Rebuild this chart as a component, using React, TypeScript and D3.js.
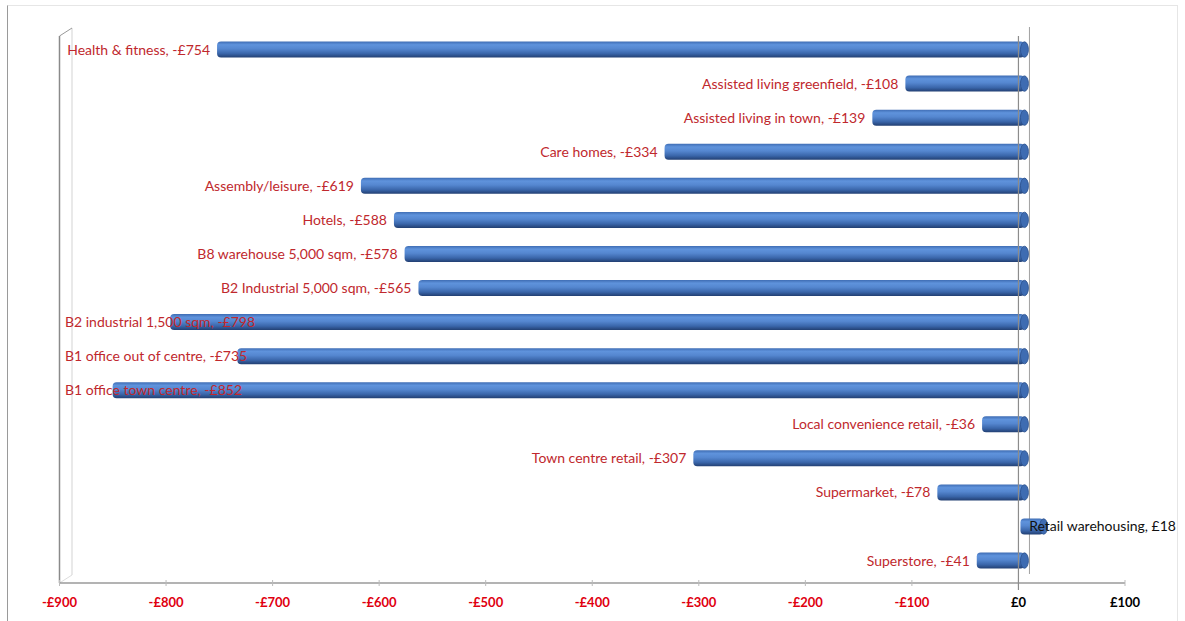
import React, { useEffect, useRef } from "react";
import * as d3 from "d3";

const categories = [
  "Health & fitness",
  "Assisted living greenfield",
  "Assisted living in town",
  "Care homes",
  "Assembly/leisure",
  "Hotels",
  "B8 warehouse 5,000 sqm",
  "B2 Industrial 5,000 sqm",
  "B2 industrial 1,500 sqm",
  "B1 office out of centre",
  "B1 office town centre",
  "Local convenience retail",
  "Town centre retail",
  "Supermarket",
  "Retail warehousing",
  "Superstore",
];
const values = [-754, -108, -139, -334, -619, -588, -578, -565, -798, -735, -852, -36, -307, -78, 18, -41];
const tickValues = [-900, -800, -700, -600, -500, -400, -300, -200, -100, 0, 100];

const W = 1185;
const H = 621;

function fmt(v: number) {
  return (v < 0 ? "-£" : "£") + Math.abs(v);
}

export default function App() {
  const ref = useRef<SVGSVGElement>(null);

  useEffect(() => {
    const svg = d3.select(ref.current!);
    svg.selectAll("*").remove();

    const x = d3.scaleLinear().domain([-900, 100]).range([59.5, 1125]);
    const y = d3
      .scaleBand<string>()
      .domain(categories)
      .range([32.5, 577.6])
      .paddingInner(0)
      .paddingOuter(0);

    const defs = svg.append("defs");
    const g = defs
      .append("linearGradient")
      .attr("id", "cyl")
      .attr("x1", 0)
      .attr("y1", 0)
      .attr("x2", 0)
      .attr("y2", 1);
    [
      [0, "#3f6db4"],
      [0.2, "#5f93dc"],
      [0.45, "#5587d0"],
      [0.75, "#3a66aa"],
      [1, "#223f72"],
    ].forEach(([o, c]) => g.append("stop").attr("offset", o as number).attr("stop-color", c as string));

    // outer frame
    svg
      .append("rect")
      .attr("x", 7.5)
      .attr("y", 5.5)
      .attr("width", 1170)
      .attr("height", 616)
      .attr("fill", "#fff")
      .attr("stroke", "#e6e6e6");
    svg.append("line").attr("x1", 7.5).attr("x2", 7.5).attr("y1", 5.5).attr("y2", 621).attr("stroke", "#9a9a9a");

    // 3D walls
    const wall = svg.append("g");
    wall.append("line").attr("x1", 72).attr("x2", 72).attr("y1", 28).attr("y2", 575).attr("stroke", "#e2e2e2").attr("stroke-width", 1.5);
    wall.append("line").attr("x1", 59.5).attr("x2", 72).attr("y1", 36).attr("y2", 28).attr("stroke", "#999");
    wall.append("line").attr("x1", 59.5).attr("x2", 72).attr("y1", 583).attr("y2", 575).attr("stroke", "#ddd");
    wall.append("line").attr("x1", 59.5).attr("x2", 59.5).attr("y1", 36).attr("y2", 583).attr("stroke", "#8a8a8a").attr("stroke-width", 1.5);
    // back zero line
    wall.append("line").attr("x1", x(0) + 11).attr("x2", x(0) + 11).attr("y1", 27).attr("y2", 574).attr("stroke", "#a0a0a0");

    // axis
    const ax = svg.append("g");
    ax.append("line").attr("x1", 59.5).attr("x2", x(100)).attr("y1", 583).attr("y2", 583).attr("stroke", "#9a9a9a").attr("stroke-width", 1.5);
    ax.selectAll(".tk")
      .data(tickValues)
      .join("line")
      .attr("x1", (d) => x(d))
      .attr("x2", (d) => x(d))
      .attr("y1", 580)
      .attr("y2", 586)
      .attr("stroke", "#bbb");
    ax.selectAll(".tl")
      .data(tickValues)
      .join("text")
      .attr("x", (d) => x(d))
      .attr("y", 607)
      .attr("text-anchor", "middle")
      .attr("font-family", "Lato, sans-serif")
      .attr("font-weight", 700)
      .attr("font-size", 13)
      .attr("fill", (d) => (d < 0 ? "#e0000f" : "#000"))
      .text((d) => fmt(d));

    const dx = 6;
    const bh = 16;
    const rx = 4;
    const bars = svg.append("g");
    categories.forEach((c, i) => {
      const v = values[i];
      const cy = (y(c) as number) + y.bandwidth() / 2;
      const x0 = x(Math.min(v, 0)) + dx;
      const x1 = x(Math.max(v, 0)) + dx;
      bars
        .append("rect")
        .attr("x", x0 - rx)
        .attr("y", cy - bh / 2)
        .attr("width", x1 - x0 + rx)
        .attr("height", bh)
        .attr("rx", rx)
        .attr("ry", rx)
        .attr("fill", "url(#cyl)");
      bars
        .append("ellipse")
        .attr("cx", x1)
        .attr("cy", cy)
        .attr("rx", rx)
        .attr("ry", bh / 2 - 0.3)
        .attr("fill", "#3e6cb2")
        .attr("stroke", "#2b4f8a")
        .attr("stroke-width", 0.8);
    });

    // front zero line
    svg.append("line").attr("x1", x(0)).attr("x2", x(0)).attr("y1", 36).attr("y2", 590).attr("stroke", "#8c8c8c").attr("stroke-width", 1.2);

    // labels
    const lab = svg.append("g").attr("font-family", "Lato, sans-serif").attr("font-size", 14);
    categories.forEach((c, i) => {
      const v = values[i];
      const cy = (y(c) as number) + y.bandwidth() / 2;
      const t = lab.append("text").attr("y", cy + 5).text(`${c}, ${fmt(v)}`);
      if (v >= 0) {
        t.attr("x", W - 9).attr("text-anchor", "end").attr("fill", "#111");
      } else {
        const barLeft = x(v) + dx - rx;
        const w = (t.node() as SVGTextElement).getComputedTextLength();
        const sx = Math.max(barLeft - 7 - w, 65);
        t.attr("x", sx).attr("text-anchor", "start").attr("fill", "#c0282d");
      }
    });
  }, []);

  return (
    <svg ref={ref} width={W} height={H} style={{ position: "absolute", left: 0, top: 0, display: "block" }} />
  );
}
